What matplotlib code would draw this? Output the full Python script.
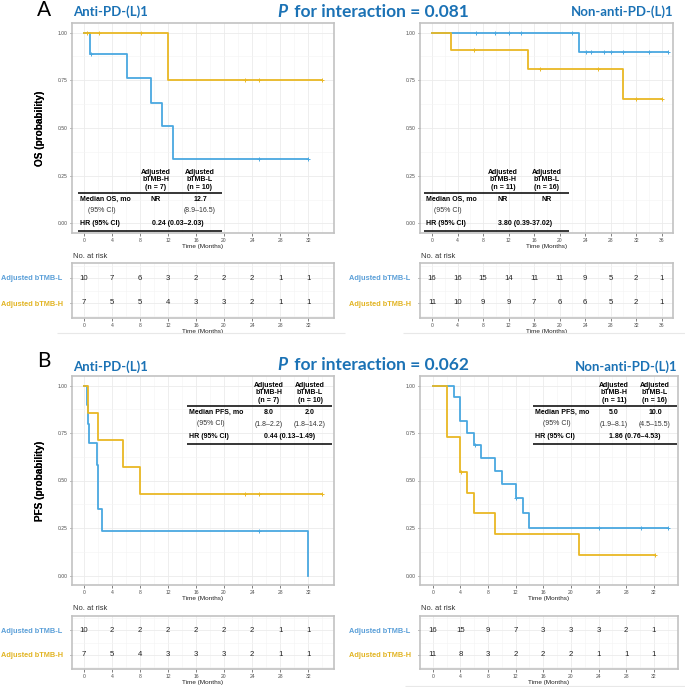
import matplotlib
matplotlib.use('Agg')
import matplotlib.pyplot as plt
import numpy as np
from matplotlib.ticker import MultipleLocator
from matplotlib.lines import Line2D

plt.rcParams['font.family'] = ['Liberation Sans', 'DejaVu Sans']

# ---------------- data ----------------
# Panel A (OS), anti-PD-(L)1
A1_H_t = [0, 12.0, 34.0]
A1_H_s = [1.0, 0.75, 0.75]
A1_H_c = [0.5, 2.2, 8.1, 23.0, 25.0, 34.0]
A1_L_t = [0, 0.85, 6.2, 9.6, 11.1, 12.7, 32.0]
A1_L_s = [1.0, 0.89, 0.76, 0.633, 0.508, 0.34, 0.34]
A1_L_c = [1.0, 25.0, 32.0]
# Panel A (OS), non-anti-PD-(L)1
A2_H_t = [0, 3.0, 15.0, 30.0, 36.0]
A2_H_s = [1.0, 0.91, 0.81, 0.65, 0.65]
A2_H_c = [6.5, 17.0, 26.0, 32.0, 36.0]
A2_L_t = [0, 23.0, 37.0]
A2_L_s = [1.0, 0.90, 0.90]
A2_L_c = [6.9, 9.9, 12.0, 14.0, 22.0, 24.1, 25.0, 27.0, 28.0, 30.0, 34.0, 37.0]
# Panel B (PFS), anti-PD-(L)1
B1_H_t = [0, 0.6, 2.0, 5.6, 8.0, 34.0]
B1_H_s = [1.0, 0.857, 0.714, 0.571, 0.429, 0.429]
B1_H_c = [23.0, 25.0, 34.0]
B1_L_t = [0, 0.5, 0.6, 0.7, 1.9, 2.0, 2.6, 32.0]
B1_L_s = [1.0, 0.9, 0.8, 0.7, 0.583, 0.35, 0.233, 0.0]
B1_L_c = [25.0]
# Panel B (PFS), non-anti-PD-(L)1
B2_H_t = [0, 2.0, 4.0, 5.0, 6.0, 9.0, 21.1, 32.2]
B2_H_s = [1.0, 0.727, 0.545, 0.436, 0.327, 0.218, 0.109, 0.109]
B2_H_c = [4.1, 32.2]
B2_L_t = [0, 3.0, 4.0, 5.0, 6.0, 7.0, 9.0, 10.0, 12.0, 13.0, 14.0, 34.1]
B2_L_s = [1.0, 0.9375, 0.8125, 0.75, 0.6875, 0.62, 0.55, 0.48, 0.41, 0.33, 0.25, 0.25]
B2_L_c = [6.1, 12.1, 24.1, 30.2, 34.1]

# numbers at risk
risk_t_32 = [0, 4, 8, 12, 16, 20, 24, 28, 32]
risk_t_36 = [0, 4, 8, 12, 16, 20, 24, 28, 32, 36]
A1_risk_L = [10, 7, 6, 3, 2, 2, 2, 1, 1]
A1_risk_H = [7, 5, 5, 4, 3, 3, 2, 1, 1]
A2_risk_L = [16, 16, 15, 14, 11, 11, 9, 5, 2, 1]
A2_risk_H = [11, 10, 9, 9, 7, 6, 6, 5, 2, 1]
B1_risk_L = [10, 2, 2, 2, 2, 2, 2, 1, 1]
B1_risk_H = [7, 5, 4, 3, 3, 3, 2, 1, 1]
B2_risk_L = [16, 15, 9, 7, 3, 3, 3, 2, 1]
B2_risk_H = [11, 8, 3, 2, 2, 2, 1, 1, 1]

row_labels = ['Adjusted bTMB-H', 'Adjusted bTMB-L']

# ---------------- layout helpers ----------------
W, H = 685, 687
fig = plt.figure(figsize=(W / 100, H / 100), dpi=100)
fig.patch.set_facecolor('white')

BLUE = '#4AA8E0'
YEL = '#E9B824'
LBL_BLUE = '#5A9FD8'
LBL_YEL = '#E2B422'
TITLE = '#1B72B5'
GRID = '#EBEBEB'
GRIDMIN = '#F4F4F4'
BORDER = '#C2C2C2'
TICKC = '#4D4D4D'


def add_ax(x0, y0, x1, y1):
    return fig.add_axes([x0 / W, 1 - y1 / H, (x1 - x0) / W, (y1 - y0) / H])


def ftxt(x, y, s, **kw):
    return fig.text(x / W, 1 - y / H, s, **kw)


def fline(x0, x1, y, lw=1.1, color='black'):
    fig.add_artist(Line2D([x0 / W, x1 / W], [1 - y / H, 1 - y / H],
                          transform=fig.transFigure, color=color, lw=lw,
                          solid_capstyle='butt'))


def base_style(ax, xlim):
    ax.set_xlim(*xlim)
    ax.xaxis.set_major_locator(MultipleLocator(4))
    ax.xaxis.set_minor_locator(MultipleLocator(2))
    ax.grid(which='major', color=GRID, lw=0.6)
    ax.grid(which='minor', color=GRIDMIN, lw=0.4)
    ax.set_axisbelow(True)
    for sp in ax.spines.values():
        sp.set_color(BORDER)
        sp.set_linewidth(1.2)
    ax.tick_params(which='major', length=1.8, width=0.5, color=TICKC,
                   labelsize=3.6, labelcolor=TICKC, pad=1.5)
    ax.tick_params(which='minor', length=0)


def km(ax, t, s, cens, color):
    t = np.asarray(t, float)
    s = np.asarray(s, float)
    ax.step(t, s, where='post', color=color, lw=1.3, zorder=3)
    c = np.asarray(cens, float)
    idx = np.searchsorted(t, c, side='right') - 1
    ax.plot(c, s[idx], '+', color=color, ms=3.2, mew=0.7, zorder=4)


def main_plot(box, xlim, curves, ylabel):
    ax = add_ax(*box)
    base_style(ax, xlim)
    ax.set_ylim(-0.05, 1.05)
    ax.yaxis.set_major_locator(MultipleLocator(0.25))
    ax.yaxis.set_minor_locator(MultipleLocator(0.125))
    ax.yaxis.set_major_formatter(matplotlib.ticker.FormatStrFormatter('%.2f'))
    for (t, s, c, col) in curves:
        km(ax, t, s, c, col)
    ax.set_xlabel('Time (Months)', fontsize=4.6, labelpad=1, color='#222222')
    ax.set_ylabel(ylabel, fontsize=7.2, fontweight='bold')
    ax.yaxis.set_label_coords(-(box[0] - 45) / (box[2] - box[0]), 0.5)
    return ax


def risk_plot(box, xlim, ticks, rL, rH):
    ax = add_ax(*box)
    base_style(ax, xlim)
    ax.set_ylim(0.4, 2.6)
    ax.set_yticks([1, 2])
    ax.set_yticklabels(row_labels)
    ax.yaxis.set_minor_locator(MultipleLocator(0.5))
    ax.tick_params(axis='y', which='major', labelsize=5.3, pad=5)
    for lab, col in zip(ax.get_yticklabels(), [LBL_YEL, LBL_BLUE]):
        lab.set_color(col)
        lab.set_fontweight('bold')
    for x, n in zip(ticks, rL):
        ax.text(x, 2, str(n), ha='center', va='center', fontsize=5.6, color='#222222')
    for x, n in zip(ticks, rH):
        ax.text(x, 1, str(n), ha='center', va='center', fontsize=5.6, color='#222222')
    ax.set_xlabel('Time (Months)', fontsize=4.6, labelpad=1, color='#222222')
    ftxt(box[0] + 1, box[1] - 7, 'No. at risk', fontsize=5.4, color='#333333',
         ha='left', va='center')
    return ax


def inset_table(xl, c1, c2, ytop, endpt, hdr1, hdr2, med1, med2, ci1, ci2, hr):
    xr = c2 + 22
    fs = 5.0
    ftxt(c1, ytop - 13, hdr1, ha='center', va='center', fontsize=fs,
         fontweight='bold', linespacing=1.05)
    ftxt(c2, ytop - 13, hdr2, ha='center', va='center', fontsize=fs,
         fontweight='bold', linespacing=1.05)
    fline(xl - 2, xr, ytop)
    ftxt(xl, ytop + 6, endpt, ha='left', va='center', fontsize=fs, fontweight='bold')
    ftxt(c1, ytop + 6, med1, ha='center', va='center', fontsize=fs, fontweight='bold')
    ftxt(c2, ytop + 6, med2, ha='center', va='center', fontsize=fs, fontweight='bold')
    ftxt(xl + 22, ytop + 17.5, '(95% CI)', ha='center', va='center', fontsize=fs,
         color='#333333')
    if ci1:
        ftxt(c1, ytop + 18, ci1, ha='center', va='center', fontsize=fs, color='#333333')
    if ci2:
        ftxt(c2, ytop + 18, ci2, ha='center', va='center', fontsize=fs, color='#333333')
    ftxt(xl, ytop + 31, 'HR (95% CI)', ha='left', va='center', fontsize=fs,
         fontweight='bold')
    ftxt((c1 + c2) / 2, ytop + 31, hr, ha='center', va='center', fontsize=fs,
         fontweight='bold')
    fline(xl - 2, xr, ytop + 38)


def ptext(x, y, value):
    r = fig.canvas.get_renderer()
    t1 = ftxt(x, y, 'P', fontsize=12.5, fontweight='bold', fontstyle='italic',
              color=TITLE, family='Lato', ha='left', va='center')
    bb = t1.get_window_extent(renderer=r)
    ftxt(x + bb.width + 3, y, ' for interaction = ' + value, fontsize=12.5,
         fontweight='bold', color=TITLE, family='Lato', ha='left', va='center')


# ---------------- panel A ----------------
xl_left = (-1.7, 35.7)
xl_A2 = (-1.9, 37.8)
xl_B2 = (-1.85, 35.5)

main_plot((72, 23, 334, 233), xl_left,
          [(A1_L_t, A1_L_s, A1_L_c, BLUE), (A1_H_t, A1_H_s, A1_H_c, YEL)],
          'OS (probability)')
main_plot((420, 23, 673, 233), xl_A2,
          [(A2_L_t, A2_L_s, A2_L_c, BLUE), (A2_H_t, A2_H_s, A2_H_c, YEL)],
          'OS (probability)')
risk_plot((72, 263, 334, 318), xl_left, risk_t_32, A1_risk_L, A1_risk_H)
risk_plot((420, 263, 673, 318), xl_A2, risk_t_36, A2_risk_L, A2_risk_H)

inset_table(80, 156, 200, 193, 'Median OS, mo',
            'Adjusted\nbTMB-H\n(n = 7)', 'Adjusted\nbTMB-L\n(n = 10)',
            'NR', '12.7', None, '(8.9\u201316.5)', '0.24 (0.03\u20132.03)')
inset_table(426, 503, 547, 193, 'Median OS, mo',
            'Adjusted\nbTMB-H\n(n = 11)', 'Adjusted\nbTMB-L\n(n = 16)',
            'NR', 'NR', None, None, '3.80 (0.39-37.02)')

ftxt(37, 10, 'A', fontsize=15, ha='left', va='center', family='Lato')
ftxt(73, 12, 'Anti-PD-(L)1', fontsize=9.5, fontweight='bold', color=TITLE,
     family='Lato', ha='left', va='center')
ftxt(673, 12, 'Non-anti-PD-(L)1', fontsize=9.5, fontweight='bold', color=TITLE,
     family='Lato', ha='right', va='center')
ptext(277, 12, '0.081')

fline(57, 345, 333, lw=0.8, color='#E8E8E8')
fline(403, 685, 333, lw=0.8, color='#E8E8E8')

# ---------------- panel B ----------------
main_plot((72, 376, 334, 585), xl_left,
          [(B1_L_t, B1_L_s, B1_L_c, BLUE), (B1_H_t, B1_H_s, B1_H_c, YEL)],
          'PFS (probability)')
main_plot((420, 376, 678, 585), xl_B2,
          [(B2_L_t, B2_L_s, B2_L_c, BLUE), (B2_H_t, B2_H_s, B2_H_c, YEL)],
          'PFS (probability)')
risk_plot((72, 616, 334, 669), xl_left, risk_t_32, B1_risk_L, B1_risk_H)
risk_plot((420, 616, 678, 669), xl_B2, risk_t_32, B2_risk_L, B2_risk_H)

inset_table(189, 269, 310, 406, 'Median PFS, mo',
            'Adjusted\nbTMB-H\n(n = 7)', 'Adjusted\nbTMB-L\n(n = 10)',
            '8.0', '2.0', '(1.8\u20132.2)', '(1.8\u201314.2)', '0.44 (0.13\u20131.49)')
inset_table(535, 614, 655, 406, 'Median PFS, mo',
            'Adjusted\nbTMB-H\n(n = 11)', 'Adjusted\nbTMB-L\n(n = 16)',
            '5.0', '10.0', '(1.9\u20138.1)', '(4.5\u201315.5)', '1.86 (0.76\u20134.53)')

ftxt(37, 361, 'B', fontsize=15, ha='left', va='center', family='Lato')
ftxt(73, 367, 'Anti-PD-(L)1', fontsize=9.5, fontweight='bold', color=TITLE,
     family='Lato', ha='left', va='center')
ftxt(678, 367, 'Non-anti-PD-(L)1', fontsize=9.5, fontweight='bold', color=TITLE,
     family='Lato', ha='right', va='center')
ptext(277, 365, '0.062')

fline(405, 685, 686, lw=0.8, color='#E8E8E8')

fig.savefig('out.png', dpi=100, facecolor='white')
